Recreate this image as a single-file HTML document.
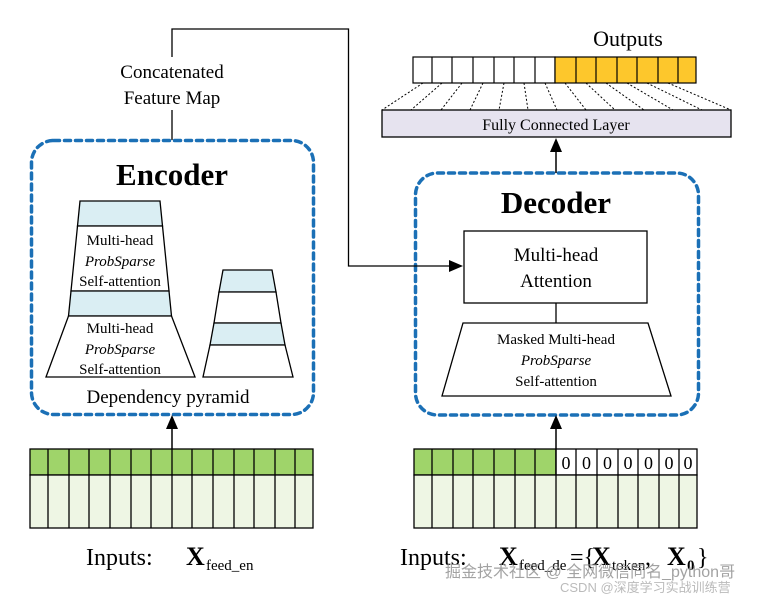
<!DOCTYPE html>
<html><head><meta charset="utf-8"><style>
html,body{margin:0;padding:0;background:#fff;}
svg{display:block;font-family:"Liberation Serif",serif;}
</style></head><body>
<svg width="757" height="597" viewBox="0 0 757 597" xmlns="http://www.w3.org/2000/svg">
<defs>
<marker id="ah" markerWidth="10" markerHeight="10" refX="9" refY="5" orient="auto" markerUnits="userSpaceOnUse"><path d="M0,0 L10,5 L0,10 z" fill="#000" transform="scale(1.6,1) translate(-3.7,0)"/></marker>
</defs>
<!-- dashed containers -->
<rect x="31.5" y="140.5" width="282" height="274" rx="22" fill="none" stroke="#1b70b6" stroke-width="3.5" stroke-dasharray="6,5" stroke-linecap="round"/>
<rect x="415.5" y="173" width="283" height="242" rx="22" fill="none" stroke="#1b70b6" stroke-width="3.5" stroke-dasharray="6,5" stroke-linecap="round"/>

<!-- connectors -->
<g stroke="#000" stroke-width="1.3" fill="none">
<polyline points="172,57 172,29 348.5,29 348.5,266 456,266"/>
<line x1="172" y1="110" x2="172" y2="140"/>
<line x1="556" y1="303" x2="556" y2="323"/>
</g>
<path d="M463,266 L449,260 L449,272 z"/>
<line x1="172" y1="449" x2="172" y2="425" stroke="#000" stroke-width="1.5"/>
<path d="M172,415 L166,429 L178,429 z"/>
<line x1="556" y1="449" x2="556" y2="425" stroke="#000" stroke-width="1.5"/>
<path d="M556,415 L550,429 L562,429 z"/>
<line x1="556" y1="173" x2="556" y2="150" stroke="#000" stroke-width="1.5"/>
<path d="M556,138 L550,152 L562,152 z"/>

<!-- labels top -->
<text x="172" y="78" font-size="19" text-anchor="middle">Concatenated</text>
<text x="172" y="104" font-size="19" text-anchor="middle">Feature Map</text>
<text x="172" y="185" font-size="31" font-weight="bold" text-anchor="middle">Encoder</text>
<text x="556" y="213" font-size="31" font-weight="bold" text-anchor="middle">Decoder</text>

<!-- big pyramid -->
<g stroke="#000" stroke-width="1.3">
<polygon points="80,201 160,201 162.5,226 77.5,226" fill="#daeef3"/>
<polygon points="77.5,226 162.5,226 169,291 71,291" fill="#fff"/>
<polygon points="71,291 169,291 171.5,316 68.5,316" fill="#daeef3"/>
<polygon points="68.5,316 171.5,316 195,377 46,377" fill="#fff"/>
<polygon points="223,270 272,270 276,292 219,292" fill="#daeef3"/>
<polygon points="219,292 276,292 281,323 214,323" fill="#fff"/>
<polygon points="214,323 281,323 285,345 210,345" fill="#daeef3"/>
<polygon points="210,345 285,345 293,377 203,377" fill="#fff"/>
</g>
<g font-size="15" text-anchor="middle">
<text x="120" y="245">Multi-head</text>
<text x="120" y="266" font-style="italic">ProbSparse</text>
<text x="120" y="286">Self-attention</text>
<text x="120" y="333">Multi-head</text>
<text x="120" y="354" font-style="italic">ProbSparse</text>
<text x="120" y="374">Self-attention</text>
</g>
<text x="168" y="403" font-size="19" text-anchor="middle">Dependency pyramid</text>

<!-- decoder internals -->
<rect x="464" y="231" width="183" height="72" fill="#fff" stroke="#000" stroke-width="1.3"/>
<text x="556" y="261" font-size="19" text-anchor="middle">Multi-head</text>
<text x="556" y="287" font-size="19" text-anchor="middle">Attention</text>
<polygon points="463,323 648,323 671,396 442,396" fill="#fff" stroke="#000" stroke-width="1.3"/>
<g font-size="15" text-anchor="middle">
<text x="556" y="344">Masked Multi-head</text>
<text x="556" y="365" font-style="italic">ProbSparse</text>
<text x="556" y="386">Self-attention</text>
</g>

<!-- outputs -->
<text x="628" y="46" font-size="22" text-anchor="middle">Outputs</text>
<g stroke="#000" stroke-width="1.2">
<rect x="413" y="57" width="142" height="26" fill="#fff"/>
<rect x="555" y="57" width="141" height="26" fill="#fdc72c"/>
<line x1="432" y1="57" x2="432" y2="83"/><line x1="452" y1="57" x2="452" y2="83"/><line x1="473" y1="57" x2="473" y2="83"/><line x1="494" y1="57" x2="494" y2="83"/><line x1="514" y1="57" x2="514" y2="83"/><line x1="535" y1="57" x2="535" y2="83"/><line x1="576" y1="57" x2="576" y2="83"/><line x1="596" y1="57" x2="596" y2="83"/><line x1="617" y1="57" x2="617" y2="83"/><line x1="637" y1="57" x2="637" y2="83"/><line x1="658" y1="57" x2="658" y2="83"/><line x1="678" y1="57" x2="678" y2="83"/>
</g>
<g stroke="#000" stroke-width="1" stroke-dasharray="2,2">
<line x1="423" y1="83" x2="382" y2="110"/><line x1="442" y1="83" x2="411" y2="110"/><line x1="462" y1="83" x2="441" y2="110"/><line x1="483" y1="83" x2="470" y2="110"/><line x1="504" y1="83" x2="499" y2="110"/><line x1="524" y1="83" x2="528" y2="110"/><line x1="545" y1="83" x2="557" y2="110"/><line x1="565" y1="83" x2="586" y2="110"/><line x1="586" y1="83" x2="615" y2="110"/><line x1="606" y1="83" x2="644" y2="110"/><line x1="627" y1="83" x2="673" y2="110"/><line x1="647" y1="83" x2="702" y2="110"/><line x1="668" y1="83" x2="731" y2="110"/>
</g>
<rect x="382" y="110" width="349" height="27" fill="#e6e3ef" stroke="#000" stroke-width="1.3"/>
<text x="556" y="130" font-size="16" text-anchor="middle">Fully Connected Layer</text>

<!-- left input grid -->
<rect x="30" y="449" width="283" height="26" fill="#9fd46a" stroke="#000" stroke-width="1.3"/>
<rect x="30" y="475" width="283" height="53" fill="#eef6e4" stroke="#000" stroke-width="1.3"/>
<g stroke="#000" stroke-width="1.3">
<line x1="48" y1="449" x2="48" y2="528"/><line x1="69" y1="449" x2="69" y2="528"/><line x1="89" y1="449" x2="89" y2="528"/><line x1="110" y1="449" x2="110" y2="528"/><line x1="131" y1="449" x2="131" y2="528"/><line x1="151" y1="449" x2="151" y2="528"/><line x1="172" y1="449" x2="172" y2="528"/><line x1="192" y1="449" x2="192" y2="528"/><line x1="213" y1="449" x2="213" y2="528"/><line x1="234" y1="449" x2="234" y2="528"/><line x1="254" y1="449" x2="254" y2="528"/><line x1="275" y1="449" x2="275" y2="528"/><line x1="295" y1="449" x2="295" y2="528"/>
</g>
<!-- right input grid -->
<rect x="414" y="449" width="142" height="26" fill="#9fd46a" stroke="#000" stroke-width="1.3"/>
<rect x="556" y="449" width="141" height="26" fill="#fff" stroke="#000" stroke-width="1.3"/>
<rect x="414" y="475" width="283" height="53" fill="#eef6e4" stroke="#000" stroke-width="1.3"/>
<g stroke="#000" stroke-width="1.3">
<line x1="432" y1="449" x2="432" y2="528"/><line x1="453" y1="449" x2="453" y2="528"/><line x1="473" y1="449" x2="473" y2="528"/><line x1="494" y1="449" x2="494" y2="528"/><line x1="515" y1="449" x2="515" y2="528"/><line x1="535" y1="449" x2="535" y2="528"/><line x1="556" y1="449" x2="556" y2="528"/><line x1="576" y1="449" x2="576" y2="528"/><line x1="597" y1="449" x2="597" y2="528"/><line x1="618" y1="449" x2="618" y2="528"/><line x1="638" y1="449" x2="638" y2="528"/><line x1="659" y1="449" x2="659" y2="528"/><line x1="679" y1="449" x2="679" y2="528"/>
</g>
<g font-size="18" text-anchor="middle">
<text x="566" y="469">0</text><text x="586.5" y="469">0</text><text x="607.5" y="469">0</text><text x="628" y="469">0</text><text x="648.5" y="469">0</text><text x="669" y="469">0</text><text x="688" y="469">0</text>
</g>

<!-- input labels -->
<text x="86" y="565" font-size="24">Inputs:</text>
<text x="186" y="565" font-size="26" font-weight="bold">X</text>
<text x="206" y="570" font-size="15">feed_en</text>
<text x="400" y="565" font-size="24">Inputs:</text>
<text x="499" y="565" font-size="26" font-weight="bold">X</text>
<text x="519" y="570" font-size="15">feed_de</text>
<text x="570" y="565" font-size="24">={</text>
<text x="592" y="565" font-size="26" font-weight="bold">X</text>
<text x="612" y="570" font-size="15">token</text>
<text x="645" y="565" font-size="24">,</text>
<text x="667" y="565" font-size="26" font-weight="bold">X</text>
<text x="687" y="570" font-size="15" font-weight="bold">0</text>
<text x="697" y="565" font-size="24">}</text>
<text x="445" y="577" font-size="16" fill="#999" font-family="Liberation Sans, Noto Sans CJK SC, sans-serif" opacity="0.9">掘金技术社区 @ 全网微信同名_python哥</text>
<text x="560" y="592" font-size="13" fill="#bbb" font-family="Liberation Sans, Noto Sans CJK SC, sans-serif">CSDN @深度学习实战训练营</text>
</svg>
</body></html>
